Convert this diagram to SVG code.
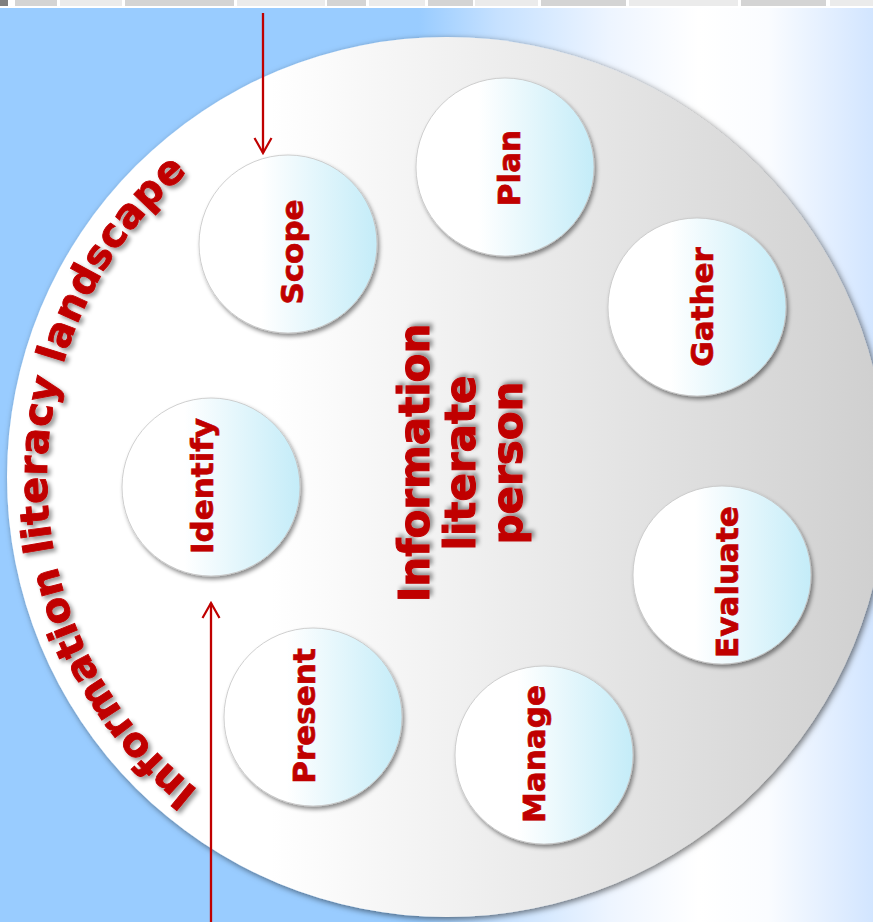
<svg xmlns="http://www.w3.org/2000/svg" xmlns:xlink="http://www.w3.org/1999/xlink" width="873" height="922" viewBox="0 0 873 922">
  <defs>
    <style>
      .seg-a { fill: #d4d4d4; }
      .seg-b { fill: #ebebeb; }
      .node circle { fill: url(#nodeGrad); stroke: #c4c4c4; stroke-width: 0.8; filter: url(#nodeShadow); }
      .lbl { font-family: "DejaVu Sans", Verdana, sans-serif; font-weight: bold; font-size: 31px; fill: #c00000; stroke: #c00000; stroke-width: 0.7; text-anchor: middle; }
      .center { font-family: "DejaVu Sans", Verdana, sans-serif; font-weight: bold; font-size: 42px; fill: #c00000; stroke: #c00000; stroke-width: 1; text-anchor: middle; filter: url(#textShadow); }
      .arc { font-family: "DejaVu Sans", Verdana, sans-serif; font-weight: bold; font-size: 40px; fill: #c00000; stroke: #c00000; stroke-width: 0.9; filter: url(#textShadow); }
      .conn { stroke: #c00000; stroke-width: 2.3; fill: none; }
    </style>
    <linearGradient id="bgGrad" x1="0" y1="0" x2="1" y2="0">
      <stop offset="0" stop-color="#99ccff"/>
      <stop offset="0.48" stop-color="#99ccff"/>
      <stop offset="0.57" stop-color="#c6e1ff"/>
      <stop offset="0.70" stop-color="#eef5ff"/>
      <stop offset="0.80" stop-color="#ffffff"/>
      <stop offset="0.88" stop-color="#fafcff"/>
      <stop offset="1" stop-color="#d2e5ff"/>
    </linearGradient>
    <linearGradient id="discGrad" x1="0" y1="0" x2="1" y2="0">
      <stop offset="0" stop-color="#ffffff"/>
      <stop offset="0.3" stop-color="#ffffff"/>
      <stop offset="1" stop-color="#cfcfcf"/>
    </linearGradient>
    <linearGradient id="nodeGrad" x1="0" y1="0" x2="1" y2="0">
      <stop offset="0" stop-color="#ffffff"/>
      <stop offset="0.35" stop-color="#ffffff"/>
      <stop offset="1" stop-color="#c4ecf8"/>
    </linearGradient>
    <filter id="discShadow" x="-10%" y="-10%" width="120%" height="120%">
      <feDropShadow dx="2" dy="2" stdDeviation="3" flood-color="#000000" flood-opacity="0.55"/>
    </filter>
    <filter id="nodeShadow" x="-20%" y="-20%" width="140%" height="140%">
      <feDropShadow dx="2" dy="3" stdDeviation="2" flood-color="#000000" flood-opacity="0.45"/>
    </filter>
    <filter id="textShadow" x="-20%" y="-20%" width="140%" height="140%">
      <feDropShadow dx="3" dy="3" stdDeviation="2" flood-color="#000000" flood-opacity="0.4"/>
    </filter>
    <marker id="arr" viewBox="0 0 20 20" markerWidth="20" markerHeight="20" refX="18" refY="10" orient="auto" markerUnits="userSpaceOnUse">
      <path d="M3,1.5 L18,10 L3,18.5" fill="none" stroke="#c00000" stroke-width="2.2"/>
    </marker>
    <path id="arcPath" d="M217.6,804.7 A400,400 0 0 1 217.6,149.3"/>
  </defs>

  <!-- background -->
  <rect x="0" y="0" width="873" height="922" fill="#ffffff"/>
  <rect x="0" y="8" width="873" height="914" fill="url(#bgGrad)"/>

  <!-- top strip -->
  <g id="top-strip">
    <rect x="0" y="0" width="8" height="6" fill="#7f7f7f"/>
    <rect class="seg-a" x="15" y="0" width="42" height="6"/>
    <rect class="seg-b" x="60" y="0" width="62" height="6"/>
    <rect class="seg-a" x="125" y="0" width="109" height="6"/>
    <rect class="seg-b" x="237" y="0" width="88" height="6"/>
    <rect class="seg-a" x="327" y="0" width="39" height="6"/>
    <rect class="seg-b" x="369" y="0" width="56" height="6"/>
    <rect class="seg-a" x="428" y="0" width="45" height="6"/>
    <rect class="seg-b" x="475" y="0" width="63" height="6"/>
    <rect class="seg-a" x="541" y="0" width="85" height="6"/>
    <rect class="seg-b" x="629" y="0" width="109" height="6"/>
    <rect class="seg-a" x="741" y="0" width="85" height="6"/>
    <rect class="seg-b" x="830" y="0" width="43" height="6"/>
  </g>

  <!-- landscape disc -->
  <g id="landscape">
    <circle cx="447" cy="477" r="440" fill="url(#discGrad)" filter="url(#discShadow)"/>
    <text class="arc"><textPath xlink:href="#arcPath" href="#arcPath" startOffset="24" textLength="706" lengthAdjust="spacing">Information literacy landscape</textPath></text>
  </g>

  <!-- centre -->
  <g id="person">
    <text class="center" transform="translate(429,463) rotate(-90)">Information</text>
    <text class="center" transform="translate(475,463) rotate(-90)">literate</text>
    <text class="center" transform="translate(522,463) rotate(-90)">person</text>
  </g>

  <!-- nodes -->
  <g id="plan" class="node">
    <circle cx="505" cy="167" r="89"/>
    <text class="lbl" transform="translate(520,168) rotate(-90)">Plan</text>
  </g>
  <g id="scope" class="node">
    <circle cx="288" cy="244" r="89"/>
    <text class="lbl" transform="translate(303,252) rotate(-90)">Scope</text>
  </g>
  <g id="gather" class="node">
    <circle cx="697" cy="307" r="89"/>
    <text class="lbl" transform="translate(713,307) rotate(-90)">Gather</text>
  </g>
  <g id="evaluate" class="node">
    <circle cx="722" cy="575" r="89"/>
    <text class="lbl" transform="translate(738,582) rotate(-90)">Evaluate</text>
  </g>
  <g id="manage" class="node">
    <circle cx="544" cy="755" r="89"/>
    <text class="lbl" transform="translate(545,754) rotate(-90)">Manage</text>
  </g>
  <g id="present" class="node">
    <circle cx="313" cy="717" r="89"/>
    <text class="lbl" transform="translate(315,716) rotate(-90)">Present</text>
  </g>
  <g id="identify" class="node">
    <circle cx="211" cy="487" r="89"/>
    <text class="lbl" transform="translate(213,486) rotate(-90)">Identify</text>
  </g>

  <!-- connectors -->
  <g id="connectors">
    <line class="conn" x1="263" y1="13" x2="263" y2="153" marker-end="url(#arr)"/>
    <line class="conn" x1="211" y1="922" x2="211" y2="603" marker-end="url(#arr)"/>
  </g>
</svg>
